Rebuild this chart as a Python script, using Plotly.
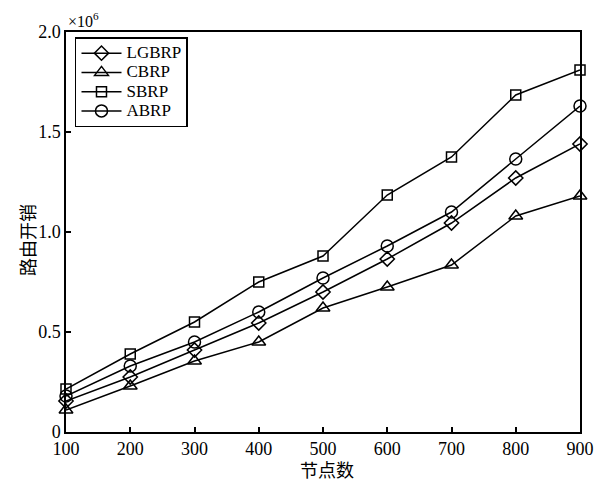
import plotly.graph_objects as go

nodes = [100, 200, 300, 400, 500, 600, 700, 800, 900]
lgbrp = [0.155, 0.275, 0.41, 0.545, 0.70, 0.865, 1.045, 1.27, 1.44]
cbrp = [0.11, 0.23, 0.355, 0.45, 0.62, 0.725, 0.835, 1.08, 1.18]
sbrp = [0.215, 0.39, 0.55, 0.75, 0.88, 1.185, 1.375, 1.685, 1.81]
abrp = [0.18, 0.33, 0.45, 0.60, 0.77, 0.93, 1.10, 1.365, 1.63]

series_names = ["LGBRP", "CBRP", "SBRP", "ABRP"]
series_values = [lgbrp, cbrp, sbrp, abrp]
series_symbols = ["diamond-open", "triangle-up-open", "square-open", "circle-open"]
series_sizes = [11, 12, 10, 12]

y_tickvals = [0, 0.5, 1.0, 1.5, 2.0]
y_ticktext = ["0", "0.5", "1.0", "1.5", "2.0"]
x_tickvals = nodes
x_ticktext = [str(v) for v in nodes]

SERIF = "Liberation Serif, Times New Roman, serif"
CJK = "Noto Sans CJK SC"

fig = go.Figure()
for name, vals, sym, sz in zip(series_names, series_values, series_symbols, series_sizes):
    fig.add_trace(go.Scatter(
        x=nodes, y=vals, mode="lines+markers",
        name='<span style="font-size:17px">' + name + "</span>",
        line=dict(color="black", width=1.5),
        marker=dict(symbol=sym, size=sz, color="black", line=dict(color="black", width=1.5)),
        cliponaxis=False,
    ))

# page body adds an 8px offset, so the figure is 8px smaller and placed at (8, 8)
fig.update_layout(
    width=597, height=474,
    margin=dict(l=58, r=25, t=24, b=50),
    plot_bgcolor="white", paper_bgcolor="white",
    font=dict(family=SERIF, size=18, color="black"),
    showlegend=True,
    legend=dict(
        x=0.0175, y=0.9875, xanchor="left", yanchor="top",
        bgcolor="white", bordercolor="black", borderwidth=1.5,
        font=dict(family=SERIF, size=12.5, color="black"),
        tracegroupgap=0, itemwidth=40,
    ),
    xaxis=dict(
        range=[100, 900], tickmode="array", tickvals=x_tickvals, ticktext=x_ticktext,
        showline=True, linecolor="black", linewidth=1.5, mirror=True,
        ticks="inside", ticklen=5, tickwidth=1.5, tickcolor="black",
        showgrid=False, zeroline=False,
        tickfont=dict(family=SERIF, size=18),
    ),
    yaxis=dict(
        range=[0, 2.0], tickmode="array", tickvals=y_tickvals, ticktext=y_ticktext,
        showline=True, linecolor="black", linewidth=1.5, mirror=True,
        ticks="inside", ticklen=5, tickwidth=1.5, tickcolor="black",
        showgrid=False, zeroline=False,
        tickfont=dict(family=SERIF, size=18),
    ),
    annotations=[
        dict(text="×10<sup>6</sup>", xref="paper", yref="paper", x=0.0, y=1.0,
             xanchor="left", yanchor="bottom", showarrow=False,
             font=dict(family=SERIF, size=16)),
        dict(text="路由开销", xref="paper", yref="paper", x=-0.076, y=0.48,
             xanchor="center", yanchor="middle", textangle=-90, showarrow=False,
             font=dict(family=CJK, size=18)),
        dict(text="节点数", xref="paper", yref="paper", x=0.508, y=-0.093,
             xanchor="center", yanchor="middle", showarrow=False,
             font=dict(family=CJK, size=18)),
    ],
)

fig.write_html("out.html")
